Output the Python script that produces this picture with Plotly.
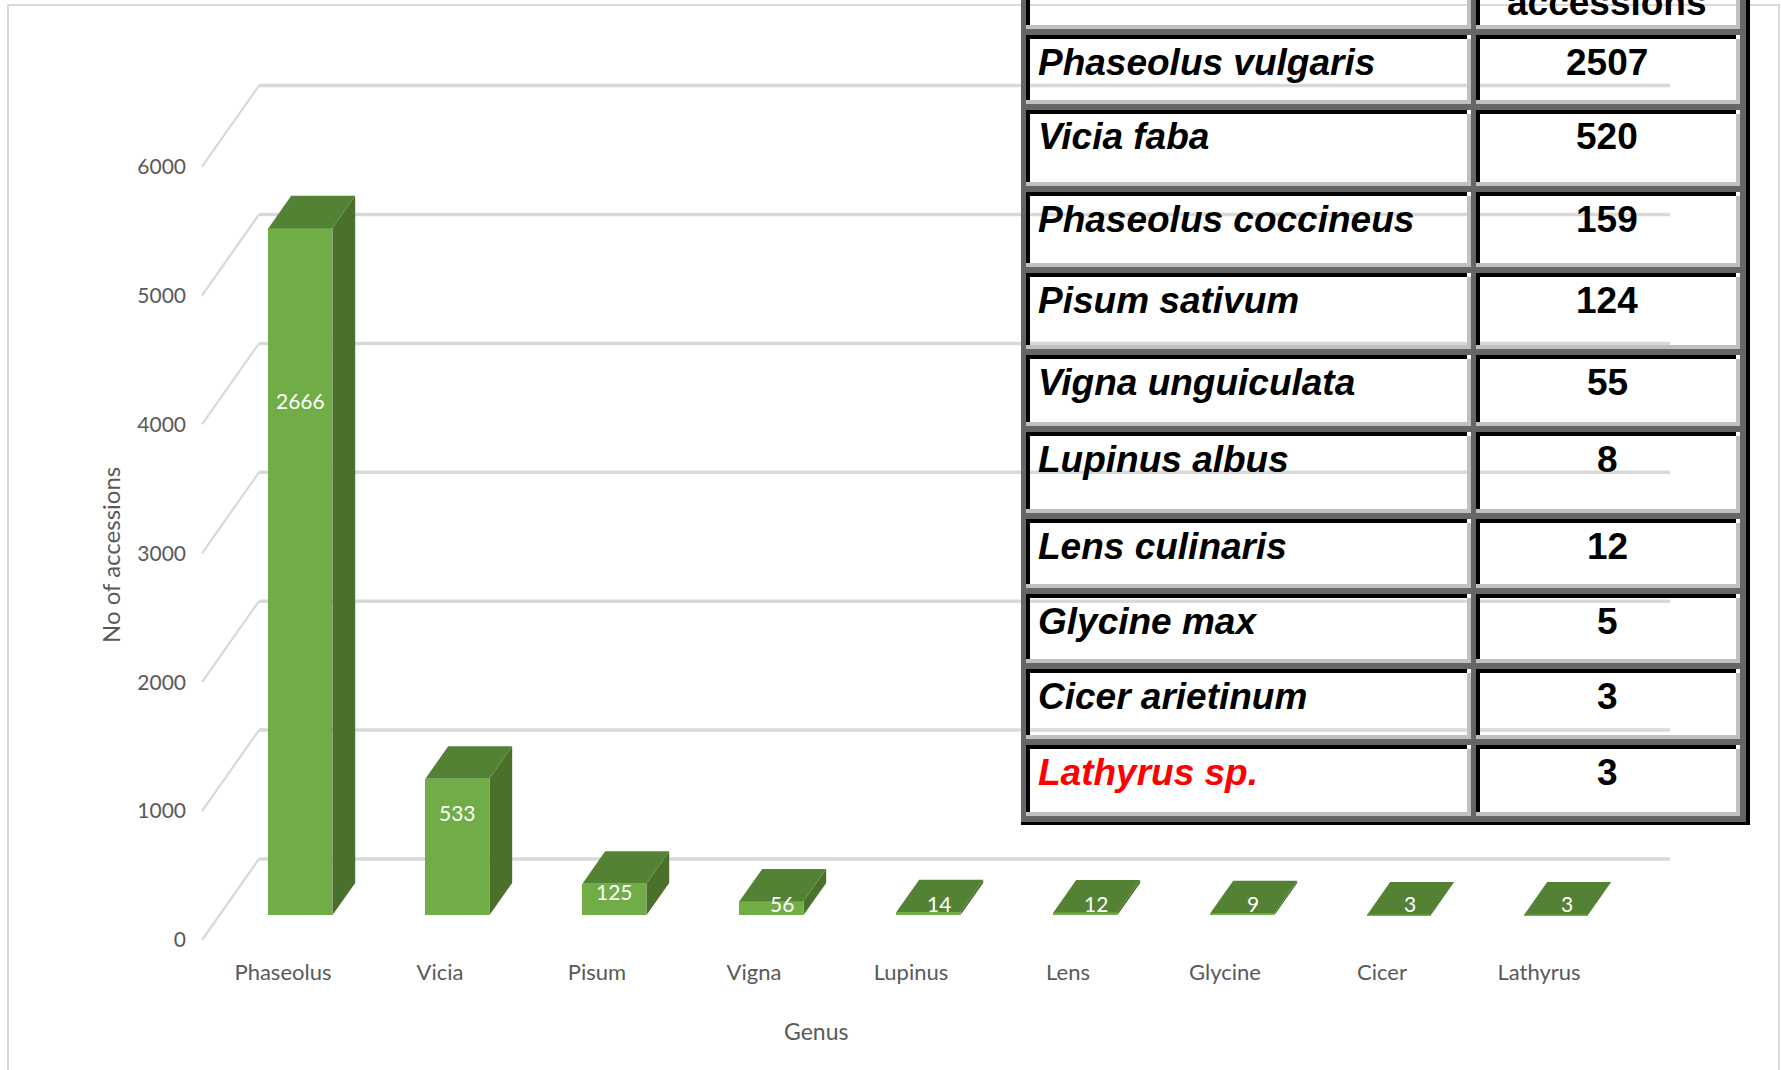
import plotly.graph_objects as go

# ---------------- data ----------------
genera = ["Phaseolus", "Vicia", "Pisum", "Vigna", "Lupinus", "Lens", "Glycine", "Cicer", "Lathyrus"]
bar_labels = [2666, 533, 125, 56, 14, 12, 9, 3, 3]
# bar heights
bar_heights = [5330, 1060, 245, 108, 25, 22, 17, 6, 6]
y_ticks = [0, 1000, 2000, 3000, 4000, 5000, 6000]

species = ["Phaseolus vulgaris", "Vicia faba", "Phaseolus coccineus", "Pisum sativum",
           "Vigna unguiculata", "Lupinus albus", "Lens culinaris", "Glycine max",
           "Cicer arietinum", "Lathyrus sp."]
species_counts = [2507, 520, 159, 124, 55, 8, 12, 5, 3, 3]
header_text = "accessions"

x_title = "Genus"
y_title = "No of accessions"

# ---------------- geometry / style ----------------
W, H = 1781, 1070
X0PX, XS = 283.0, 157.0          # pixel of first category, pixels per category
Y0PX, YS = 940.0, 0.1289         # pixel of value 0 (front), pixels per unit
DX = 57.0 / XS                   # depth offset in x units
DY = 81.0 / YS                   # depth offset in y units
D0, DEPTH = 0.305, 0.40          # bar front depth, bar depth
BW = 64.0 / XS                   # bar width
GRID_END = (1670.0 - X0PX) / XS
Y_FRONT_X = (202.0 - X0PX) / XS

FRONT = "#70AD47"
TOP = "#548235"
SIDE = "#4A702C"
GRID = "#D9D9D9"
TXT = "#595959"
CH_FONT = "Lato"
TB_FONT = "Liberation Sans"
TB_SIZE = 37

fig = go.Figure()

base = D0 * DY
xc = [i + D0 * DX for i in range(len(genera))]

# front faces
fig.add_trace(go.Bar(x=xc, y=bar_heights, base=base, width=BW,
                     marker=dict(color=FRONT, line=dict(width=0)),
                     hoverinfo="skip", showlegend=False))

# side and top faces
sx, sy, tx, ty = [], [], [], []
for c, h in zip(xc, bar_heights):
    xl, xr = c - BW / 2, c + BW / 2
    ex, ey = DEPTH * DX, DEPTH * DY
    sx += [xr, xr + ex, xr + ex, xr, xr, None]
    sy += [base, base + ey, base + h + ey, base + h, base, None]
    tx += [xl, xr, xr + ex, xl + ex, xl, None]
    ty += [base + h, base + h, base + h + ey, base + h + ey, base + h, None]
fig.add_trace(go.Scatter(x=sx, y=sy, fill="toself", fillcolor=SIDE, mode="lines",
                         line=dict(width=0, color=SIDE), hoverinfo="skip", showlegend=False))
fig.add_trace(go.Scatter(x=tx, y=ty, fill="toself", fillcolor=TOP, mode="lines",
                         line=dict(width=0, color=TOP), hoverinfo="skip", showlegend=False))

shapes = []
# 3D gridlines
for v in y_ticks:
    shapes.append(dict(type="line", xref="x", yref="y", x0=Y_FRONT_X, y0=v,
                       x1=Y_FRONT_X + DX, y1=v + DY, line=dict(color=GRID, width=2.2), layer="below"))
    shapes.append(dict(type="line", xref="x", yref="y", x0=Y_FRONT_X + DX, y0=v + DY,
                       x1=GRID_END, y1=v + DY, line=dict(color=GRID, width=3.5), layer="below"))

# chart frame
shapes.append(dict(type="rect", xref="paper", yref="paper", x0=8 / W, x1=1779 / W,
                   y0=-0.01, y1=1 - 5 / H, line=dict(color=GRID, width=2), layer="below"))

annotations = []
# data labels
for c, h, lab in zip(xc, bar_heights, bar_labels):
    off = 0.75 * h
    small = off < 95
    annotations.append(dict(x=c + (0.07 if small else 0), y=base + max(off, 92), xref="x", yref="y",
                            text=str(lab), showarrow=False, xanchor="center", yanchor="middle",
                            font=dict(family=CH_FONT, size=21, color="white")))

# axis titles
annotations.append(dict(x=110 / W, y=1 - 555 / H, xref="paper", yref="paper", text=y_title,
                        textangle=-90, showarrow=False, xanchor="center", yanchor="middle",
                        font=dict(family=CH_FONT, size=24, color=TXT)))
annotations.append(dict(x=816 / W, y=1 - 1031 / H, xref="paper", yref="paper", text=x_title,
                        showarrow=False, xanchor="center", yanchor="middle",
                        font=dict(family=CH_FONT, size=23, color=TXT)))

# ---------------- table overlay ----------------
def prect(x0, y0, x1, y1, color):
    shapes.append(dict(type="rect", xref="paper", yref="paper",
                       x0=x0 / W, x1=x1 / W, y0=1 - y1 / H, y1=1 - y0 / H,
                       fillcolor=color, line=dict(width=0), layer="above"))

DARK, BLACK, LIGHT = "#666666", "#000000", "#C0C0C0"
TL, TR = 1021, 1750
COLS = [(1026, 1471), (1476, 1740)]
row_tops = [-30, 35, 110, 192, 273, 355, 432, 519, 594, 669, 745]
row_bots = [29, 104, 186, 267, 349, 426, 513, 588, 663, 739, 816]
TB = 822

# dark gray frame pieces
prect(TL, -30, 1026, TB, DARK)
prect(1471, -30, 1476, TB, DARK)
prect(1740, -30, 1746, TB, DARK)
for k in range(len(row_tops) - 1):
    prect(TL, row_bots[k], 1746, row_tops[k + 1], DARK)
prect(TL, row_bots[-1], 1746, TB, DARK)
# outer black
prect(1746, -30, TR, TB + 3, BLACK)
prect(TL, TB, TR, TB + 3, BLACK)
# cell bevels
B = 4
for t, b in zip(row_tops, row_bots):
    for x0, x1 in COLS:
        prect(x0, t, x1 - B, t + B, BLACK)
        prect(x0, t, x0 + B, b - B, BLACK)
        prect(x0, b - B, x1, b, LIGHT)
        prect(x1 - B, t + B, x1, b, LIGHT)

# table texts
annotations.append(dict(x=1607 / W, y=1 - 2 / H, xref="paper", yref="paper",
                        text="<b>" + header_text + "</b>", showarrow=False,
                        xanchor="center", yanchor="middle",
                        font=dict(family=TB_FONT, size=TB_SIZE, color="black")))
for k, (name, cnt) in enumerate(zip(species, species_counts)):
    t = row_tops[k + 1]
    col = "#FF0000" if name.startswith("Lathyrus") else "black"
    annotations.append(dict(x=1036 / W, y=1 - (t + 27) / H, xref="paper", yref="paper",
                            text="<b><i>" + name + "</i></b>", showarrow=False,
                            xanchor="left", yanchor="middle",
                            font=dict(family=TB_FONT, size=TB_SIZE, color=col)))
    annotations.append(dict(x=1607 / W, y=1 - (t + 27) / H, xref="paper", yref="paper",
                            text="<b>" + str(cnt) + "</b>", showarrow=False,
                            xanchor="center", yanchor="middle",
                            font=dict(family=TB_FONT, size=TB_SIZE, color="black")))

fig.update_layout(
    width=W, height=H, autosize=False,
    margin=dict(l=0, r=0, t=0, b=0),
    paper_bgcolor="white", plot_bgcolor="rgba(0,0,0,0)",
    showlegend=False, bargap=0,
    xaxis=dict(range=[-X0PX / XS, (W - X0PX) / XS], tickvals=list(range(len(genera))),
               ticktext=genera, showgrid=False, zeroline=False, showline=False,
               ticks="", anchor="free", position=(H - 957) / H, fixedrange=True,
               tickfont=dict(family=CH_FONT, size=22, color=TXT)),
    yaxis=dict(range=[-(H - Y0PX) / YS, Y0PX / YS], tickvals=y_ticks,
               showgrid=False, zeroline=False, showline=False, ticks="",
               anchor="free", position=202 / W, ticklabelstandoff=16, fixedrange=True,
               tickfont=dict(family=CH_FONT, size=21, color=TXT)),
    shapes=shapes, annotations=annotations,
)

fig.write_html("out.html", config={"displayModeBar": False},
               post_script="document.body.style.margin='0px';")
